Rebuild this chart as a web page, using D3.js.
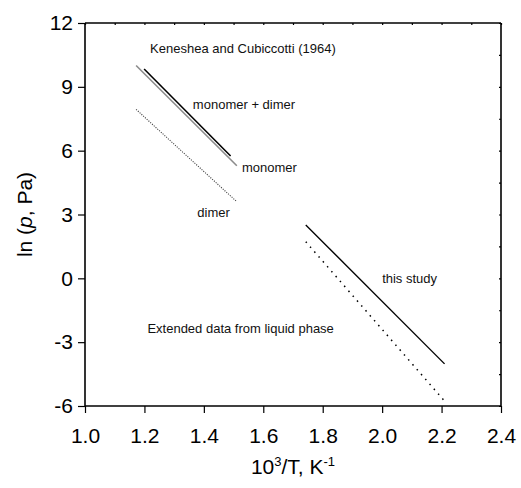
<!doctype html>
<html lang="en">
  <head>
    <meta charset="UTF-8" />
    <title>ln p vs 1000/T</title>
    <style>
      body { margin: 0; background: #fff; }
      svg { font-family: "Liberation Sans", Arial, sans-serif; }
    </style>
  </head>
  <body>
    <div id="target"></div>
    <script src="https://d3js.org/d3.v7.min.js"></script>
    <script>
      /* global d3 */

      // endpoints of each straight line (x = 10^3/T, y = ln p)
      const monomerGray = [[1.172, 10.0], [1.511, 5.29]];
      const monomerDimer = [[1.199, 9.84], [1.49, 5.75]];
      const dimer = [[1.172, 7.94], [1.511, 3.6]];
      const thisStudy = [[1.743, 2.51], [2.21, -4.02]];
      const extended = [[1.743, 1.72], [2.212, -5.8]];

      const xTicks = [1.0, 1.2, 1.4, 1.6, 1.8, 2.0, 2.2, 2.4];
      const yTicks = [-6, -3, 0, 3, 6, 9, 12];

      // annotation text, anchored at data coordinates (left edge, middle)
      const notes = [
        { text: "Keneshea and Cubiccotti (1964)", x: 1.219, y: 10.8 },
        { text: "monomer + dimer", x: 1.363, y: 8.15 },
        { text: "monomer", x: 1.528, y: 5.2 },
        { text: "dimer", x: 1.378, y: 3.1 },
        { text: "this study", x: 2.0, y: 0.0 },
        { text: "Extended data from liquid phase", x: 1.21, y: -2.35 },
      ];

      const width = 521,
        height = 488;
      const margin = { left: 85, top: 23, right: 20, bottom: 82 };

      const svg = d3
        .select("#target")
        .append("svg")
        .attr("width", width)
        .attr("height", height);

      const xScale = d3
        .scaleLinear()
        .domain([1.0, 2.4])
        .range([margin.left, width - margin.right]);
      const yScale = d3
        .scaleLinear()
        .domain([-6, 12])
        .range([height - margin.bottom, margin.top]);

      const x0 = xScale.range()[0],
        x1 = xScale.range()[1],
        y0 = yScale.range()[0],
        y1 = yScale.range()[1];

      const minorX = d3.range(10, 25).map((d) => d / 10);
      const minorY = d3.range(-6, 13, 1.5);

      // bottom axis: major + minor outward ticks
      const gx = svg.append("g").attr("transform", `translate(0,${y0})`);
      gx.call(
        d3.axisBottom(xScale).tickValues(minorX).tickSize(4).tickFormat("")
      );
      gx.call(
        d3
          .axisBottom(xScale)
          .tickValues(xTicks)
          .tickSize(7)
          .tickPadding(15)
          .tickFormat(d3.format(".1f"))
      );
      gx.selectAll("text").attr("font-size", 21).attr("fill", "#000");

      const gy = svg.append("g").attr("transform", `translate(${x0},0)`);
      gy.call(
        d3.axisLeft(yScale).tickValues(minorY).tickSize(4).tickFormat("")
      );
      gy.call(
        d3
          .axisLeft(yScale)
          .tickValues(yTicks)
          .tickSize(7)
          .tickPadding(5)
          .tickFormat((d) => String(d))
      );
      gy.selectAll("text").attr("font-size", 21).attr("fill", "#000");

      // top and right axes with small inward ticks
      const gt = svg.append("g").attr("transform", `translate(0,${y1})`);
      gt.call(d3.axisBottom(xScale).tickValues(minorX).tickSize(2).tickFormat(""));
      const gr = svg.append("g").attr("transform", `translate(${x1},0)`);
      gr.call(d3.axisLeft(yScale).tickValues(minorY).tickSize(2).tickFormat(""));

      svg.selectAll(".domain").attr("stroke", "#000").attr("stroke-width", 1.6);
      svg.selectAll(".tick line").attr("stroke", "#000").attr("stroke-width", 1.2);
      gt.select(".domain").attr("d", `M${x0},0H${x1}`);
      gr.select(".domain").attr("d", `M0,${y1}V${y0}`);
      gx.selectAll(".domain").attr("d", `M${x0},0H${x1}`);
      gy.selectAll(".domain").attr("d", `M0,${y0}V${y1}`);

      const line = d3
        .line()
        .x((d) => xScale(d[0]))
        .y((d) => yScale(d[1]));

      const series = [
        { data: monomerGray, stroke: "#8c8c8c", width: 1.6, dash: null },
        { data: monomerDimer, stroke: "#000", width: 1.6, dash: null },
        { data: dimer, stroke: "#444", width: 1.1, dash: "1.1,1.3" },
        { data: thisStudy, stroke: "#000", width: 1.4, dash: null },
        { data: extended, stroke: "#000", width: 1.5, dash: "1.5,5" },
      ];

      svg
        .append("g")
        .selectAll("path")
        .data(series)
        .join("path")
        .attr("d", (d) => line(d.data))
        .attr("fill", "none")
        .attr("stroke", (d) => d.stroke)
        .attr("stroke-width", (d) => d.width)
        .attr("stroke-dasharray", (d) => d.dash);

      svg
        .append("g")
        .selectAll("text")
        .data(notes)
        .join("text")
        .attr("x", (d) => xScale(d.x))
        .attr("y", (d) => yScale(d.y))
        .attr("dy", "0.35em")
        .attr("font-size", 13)
        .attr("fill", "#111")
        .text((d) => d.text);

      // axis titles
      const xt = svg
        .append("text")
        .attr("x", (x0 + x1) / 2)
        .attr("y", 474)
        .attr("text-anchor", "middle")
        .attr("font-size", 21);
      xt.append("tspan").text("10");
      xt.append("tspan").attr("dy", -8).attr("font-size", 13).text("3");
      xt.append("tspan").attr("dy", 8).text("/T, K");
      xt.append("tspan").attr("dy", -8).attr("font-size", 13).text("-1");

      const yt = svg
        .append("text")
        .attr("transform", `translate(32,${(y0 + y1) / 2}) rotate(-90)`)
        .attr("text-anchor", "middle")
        .attr("font-size", 21);
      yt.append("tspan").text("ln (");
      yt.append("tspan").attr("font-style", "italic").text("p");
      yt.append("tspan").text(", Pa)");
    </script>
  </body>
</html>
